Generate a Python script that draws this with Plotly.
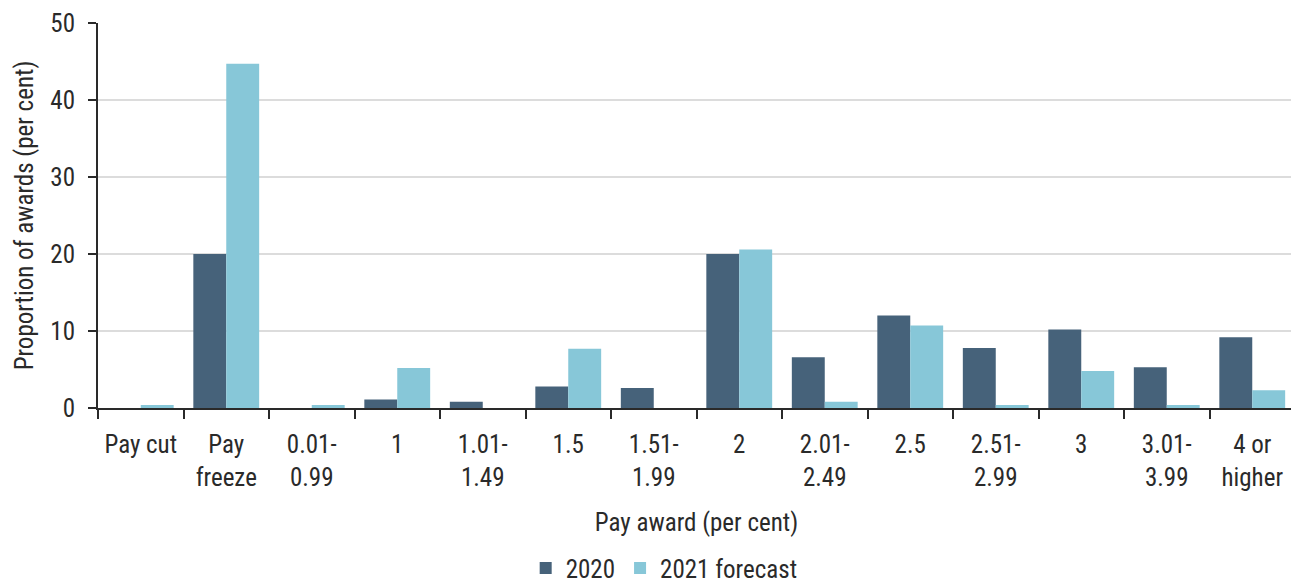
import plotly.graph_objects as go

categories = ["Pay cut", "Pay<br>freeze", "0.01-<br>0.99", "1", "1.01-<br>1.49", "1.5", "1.51-<br>1.99",
              "2", "2.01-<br>2.49", "2.5", "2.51-<br>2.99", "3", "3.01-<br>3.99", "4 or<br>higher"]
values_2020 = [0, 20.0, 0, 1.1, 0.8, 2.8, 2.6, 20.0, 6.6, 12.0, 7.8, 10.2, 5.3, 9.2]
values_2021 = [0.4, 44.7, 0.4, 5.2, 0, 7.7, 0, 20.6, 0.8, 10.7, 0.4, 4.8, 0.4, 2.3]
y_ticks = [0, 10, 20, 30, 40, 50]

FONT = "Liberation Sans Narrow, Roboto Condensed, Arial Narrow, Roboto, sans-serif"
DARK = "#46627A"
LIGHT = "#87C7D8"
TXT = "#2a2a2a"

fig = go.Figure()
fig.add_trace(go.Bar(x=categories, y=values_2020, name="2020", marker=dict(color=DARK, line=dict(width=0))))
fig.add_trace(go.Bar(x=categories, y=values_2021, name="2021 forecast", marker=dict(color=LIGHT, line=dict(width=0))))

fig.update_layout(
    width=1291, height=575,
    margin=dict(l=90, r=4, t=15, b=175, autoexpand=False),
    paper_bgcolor="white", plot_bgcolor="white",
    font=dict(family=FONT, size=25, color=TXT),
    barmode="group", bargap=0.23, bargroupgap=0,
    legend=dict(orientation="h", x=0.473, xanchor="center", y=-0.416, yanchor="middle",
                font=dict(size=25), itemwidth=30, tracegroupgap=0),
    xaxis=dict(
        automargin=False,
        showline=True, linecolor=TXT, linewidth=2,
        ticks="outside", tickson="boundaries", ticklen=9, tickwidth=2, tickcolor=TXT,
        ticklabelstandoff=13,
        title=dict(text="Pay award (per cent)", standoff=23, font=dict(size=25)),
        tickfont=dict(size=25),
    ),
    yaxis=dict(
        automargin=False,
        range=[0, 50], tickvals=y_ticks,
        showline=True, linecolor=TXT, linewidth=2,
        ticks="outside", ticklen=8, tickwidth=2, tickcolor=TXT,
        ticklabelstandoff=8,
        showgrid=True, gridcolor="#dcdcdc", gridwidth=2,
        zeroline=False,
        title=dict(text="Proportion of awards (per cent)", standoff=10, font=dict(size=25)),
        tickfont=dict(size=25),
    ),
)

fig.write_html("out.html")
